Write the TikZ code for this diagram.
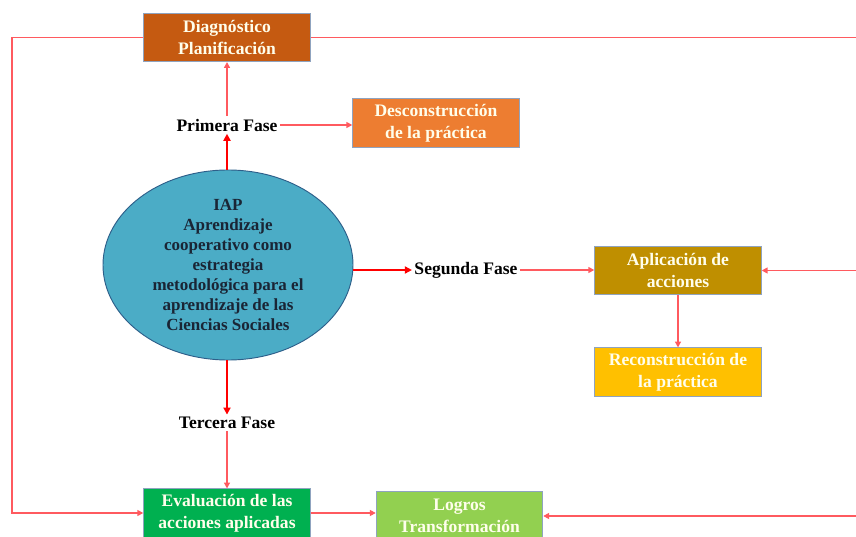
\documentclass[tikz,border=0pt]{standalone}
\usepackage{fontspec}
\setmainfont{Liberation Serif}
\usetikzlibrary{arrows.meta, positioning, shapes.geometric}

\definecolor{diagbrown}{HTML}{C55A11}
\definecolor{descorange}{HTML}{ED7D31}
\definecolor{aplgold}{HTML}{BF8F00}
\definecolor{recyellow}{HTML}{FFC000}
\definecolor{evalgreen}{HTML}{00B050}
\definecolor{logrosgreen}{HTML}{92D050}
\definecolor{iapblue}{HTML}{4BACC6}
\definecolor{iapborder}{HTML}{2E5F8A}
\definecolor{iaptext}{HTML}{1A2535}
\definecolor{linkred}{HTML}{FF5A5F}
\definecolor{boxedge}{HTML}{8FA3BF}

\begin{document}
\begin{tikzpicture}[x=0.03cm, y=-0.03cm,
  fase/.style={font=\bfseries\fontsize{15}{18}\selectfont, text=black, inner sep=2pt},
  caja/.style={draw=boxedge, line width=0.6pt, minimum width=5.0cm, minimum height=1.45cm,
    align=center, text=white!92!yellow, inner sep=2pt,
    font=\bfseries\fontsize{15}{19}\selectfont},
  lazo/.style={draw=linkred, line width=1.3pt},
  flecha/.style={lazo, -{Triangle[length=5pt,width=5pt]}},
  gruesa/.style={draw=red, line width=2pt, -{Triangle[length=6pt,width=6pt]}}]
\useasboundingbox (0,0) rectangle (856,537);
\clip (0,0) rectangle (856,537);

\node[caja, fill=diagbrown] (diag) at (227,37.5) {Diagnóstico\\Planificación};
\node[caja, fill=descorange] (desc) at (436,123) {Desconstrucción\\de la práctica};
\node[ellipse, draw=iapborder, line width=0.8pt, fill=iapblue, inner sep=-4pt,
  minimum width=7.5cm, minimum height=5.7cm, align=center, text=iaptext,
  font=\bfseries\fontsize{14.5}{17}\selectfont] (iap) at (228,265)
  {IAP\\Aprendizaje\\cooperativo como\\estrategia\\metodológica para el\\aprendizaje de las\\Ciencias Sociales};
\node[fase] (primera) at (227,125) {Primera Fase};
\node[fase] (segunda) at (466,270) {Segunda Fase};
\node[fase] (tercera) at (227,423) {Tercera Fase};
\node[caja, fill=aplgold] (apl) at (678,270.5) {Aplicación de\\acciones};
\node[caja, fill=recyellow] (rec) at (678,372) {Reconstrucción de\\la práctica};
\node[caja, fill=evalgreen] (eval) at (227,513) {Evaluación de las\\acciones aplicadas};
\node[caja, fill=logrosgreen] (logros) at (459.5,516) {Logros\\Transformación};

\coordinate (esqsup) at (12,37.5);
\coordinate (esqinf) at (12,513);
\coordinate (bordesup) at (856,37.5);
\coordinate (bordemed) at (856,270.5);
\coordinate (bordeinf) at (856,516);

% lazo exterior
\draw[flecha] (diag.west) -- (esqsup) -- (esqinf) -- (eval.west);
\draw[lazo] (diag.east) -- (bordesup);
\draw[flecha] (bordemed) -- (apl.east);
\draw[flecha] (bordeinf) -- (logros.east);

% fases
\draw[gruesa] (primera.south |- iap.north) -- (primera.south);
\draw[flecha] (primera.north) -- (diag.south);
\draw[flecha] (primera.east) -- (primera.east -| desc.west);
\draw[gruesa] (segunda.west -| iap.east) -- (segunda.west);
\draw[flecha] (segunda.east) -- (segunda.east -| apl.west);
\draw[flecha] (apl.south) -- (rec.north);
\draw[gruesa] (tercera.north |- iap.south) -- (tercera.north);
\draw[flecha] (tercera.south) -- (eval.north);
\draw[flecha] (eval.east) -- (eval.east -| logros.west);
\end{tikzpicture}
\end{document}
